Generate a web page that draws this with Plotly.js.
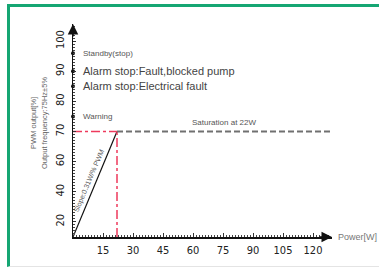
<!DOCTYPE html>
<html>
<head>
<meta charset="utf-8">
<script src="https://cdn.plot.ly/plotly-3.0.1.min.js"></script>
<style>
html,body{margin:0;padding:0;background:#fff;}
#wrap{position:relative;width:379px;height:270px;overflow:hidden;}
#chart{position:absolute;left:0;top:0;width:379px;height:270px;}
#frame{position:absolute;left:7px;top:4px;width:372px;height:263px;border-top:3px solid #15a673;border-left:3px solid #15a673;border-bottom:1px solid #e4e4e4;box-sizing:border-box;pointer-events:none;}
</style>
</head>
<body>
<div id="wrap"><div id="chart"></div><div id="frame"></div></div>
<script>
// ---- data ----
const xTicks = [15, 30, 45, 60, 75, 90, 105, 120];
const yTickLabels = [20, 40, 60, 70, 80, 90, 100];
const slopeX = [0, 22];          // Power [W]
const slopeY = [10, 70];         // PWM output [%]
const saturationX = [22, 130];
const saturationY = [70, 70];
const warnLevelX = [0, 22];
const warnLevelY = [70, 70];
const satVertX = [22, 22];
const satVertY = [10, 70];
const stateNames = ["Standby(stop)", "Alarm stop:Fault,blocked pump", "Alarm stop:Electrical fault", "Warning"];
const stateLevels = [96, 90, 85, 75];

// y axis: tick labels evenly spaced (index 1..n), piecewise-linear between them
function yPos(v) {
  const L = yTickLabels;
  if (v <= L[0]) return 1 + (v - L[0]) / (L[1] - L[0]);
  for (let i = 0; i < L.length - 1; i++) {
    if (v <= L[i + 1]) return 1 + i + (v - L[i]) / (L[i + 1] - L[i]);
  }
  const n = L.length;
  return n + (v - L[n - 1]) / (L[n - 1] - L[n - 2]);
}
const Y = a => a.map(yPos);

const txtFont = {family: 'Liberation Sans, Arial, sans-serif', color: '#555'};

const traces = [
  {x: slopeX, y: Y(slopeY), mode: 'lines', line: {color: '#111', width: 1.2}, hoverinfo: 'skip'},
  {x: warnLevelX, y: Y(warnLevelY), mode: 'lines', line: {color: '#ee3a5c', width: 1.5, dash: 'dashdot'}, hoverinfo: 'skip'},
  {x: satVertX, y: Y(satVertY), mode: 'lines', line: {color: '#ee3a5c', width: 1.5, dash: 'dashdot'}, hoverinfo: 'skip'},
  {x: saturationX, y: Y(saturationY), mode: 'lines', line: {color: '#707070', width: 2, dash: '6px,3px'}, hoverinfo: 'skip', cliponaxis: false},
  {x: stateLevels.map(() => 0), y: Y(stateLevels), mode: 'markers', marker: {color: '#111', size: 4}, cliponaxis: false, hoverinfo: 'skip'}
];

const annotations = [];
const stateSizes = [8, 11, 11, 8];
stateNames.forEach((s, i) => {
  annotations.push({x: 0, y: yPos(stateLevels[i]), xref: 'x', yref: 'y', text: s, showarrow: false,
    xanchor: 'left', yanchor: 'middle', xshift: 8, font: Object.assign({size: stateSizes[i]}, txtFont, {color: i === 1 || i === 2 ? '#444' : '#555'})});
});
annotations.push({x: 58.5, y: yPos(70), xref: 'x', yref: 'y', text: 'Saturation at 22W', showarrow: false,
  xanchor: 'left', yanchor: 'bottom', yshift: 3, font: Object.assign({size: 8}, txtFont)});
annotations.push({x: 8.2, y: yPos(47), xref: 'x', yref: 'y', text: 'Slope:0.31W/% PWM', showarrow: false,
  textangle: -67, font: Object.assign({size: 7}, txtFont)});
annotations.push({x: 1.016, y: 0, xref: 'paper', yref: 'paper', text: 'Power[W]', showarrow: false,
  xanchor: 'left', yanchor: 'middle', font: Object.assign({size: 9}, txtFont, {color: '#777'})});
// y-axis titles
annotations.push({x: -0.155, y: 0.535, xref: 'paper', yref: 'paper', text: 'PWM output[%]', showarrow: false,
  xanchor: 'center', yanchor: 'middle',
  textangle: -90, font: Object.assign({size: 7.5}, txtFont, {color: '#666'})});
annotations.push({x: -0.112, y: 0.535, xref: 'paper', yref: 'paper', text: 'Output frequency:75Hz±5%', showarrow: false,
  xanchor: 'center', yanchor: 'middle',
  textangle: -90, font: Object.assign({size: 7.5}, txtFont, {color: '#666'})});
// axis arrows
annotations.push({x: 1, y: 0, xref: 'paper', yref: 'paper', ax: -14, ay: 0, text: '', showarrow: true,
  arrowhead: 2, arrowsize: 1.4, arrowwidth: 1.5, arrowcolor: '#111', standoff: 0});
annotations.push({x: 0, y: 1, xref: 'paper', yref: 'paper', ax: 0, ay: 14, text: '', showarrow: true,
  arrowhead: 2, arrowsize: 1.4, arrowwidth: 1.5, arrowcolor: '#111', standoff: 0});

const tickFont = {family: 'Liberation Sans Narrow, DejaVu Sans Condensed, sans-serif', size: 11, color: '#222'};

const layout = {
  width: 379, height: 270,
  margin: {l: 73, r: 47, t: 24, b: 33, pad: 0},
  paper_bgcolor: '#fff', plot_bgcolor: '#fff',
  showlegend: false,
  xaxis: {
    range: [0, 129.5], showgrid: false, zeroline: false,
    showline: true, linecolor: '#111', linewidth: 1.5,
    tickmode: 'array', tickvals: xTicks, ticktext: xTicks.map(String),
    ticks: 'inside', ticklen: 4, tickcolor: '#333', tickwidth: 1,
    tickfont: tickFont, ticklabelstandoff: 2,
    minor: {tickmode: 'linear', tick0: 0, dtick: 1.5, ticks: 'inside', ticklen: 2, tickcolor: '#444', showgrid: false}
  },
  yaxis: {
    range: [yPos(10), 7.57], showgrid: false, zeroline: false,
    showline: true, linecolor: '#111', linewidth: 1.5,
    tickmode: 'array', tickvals: yTickLabels.map(yPos), ticktext: yTickLabels.map(String),
    ticks: 'inside', ticklen: 3, tickcolor: '#333', tickwidth: 1,
    tickangle: -90, tickfont: tickFont, ticklabelstandoff: 3,
    minor: {tickmode: 'linear', tick0: 0, dtick: 0.1, ticks: 'inside', ticklen: 2, tickcolor: '#444', showgrid: false}
  },
  annotations: annotations
};

Plotly.newPlot('chart', traces, layout, {staticPlot: true, displayModeBar: false});
</script>
</body>
</html>
